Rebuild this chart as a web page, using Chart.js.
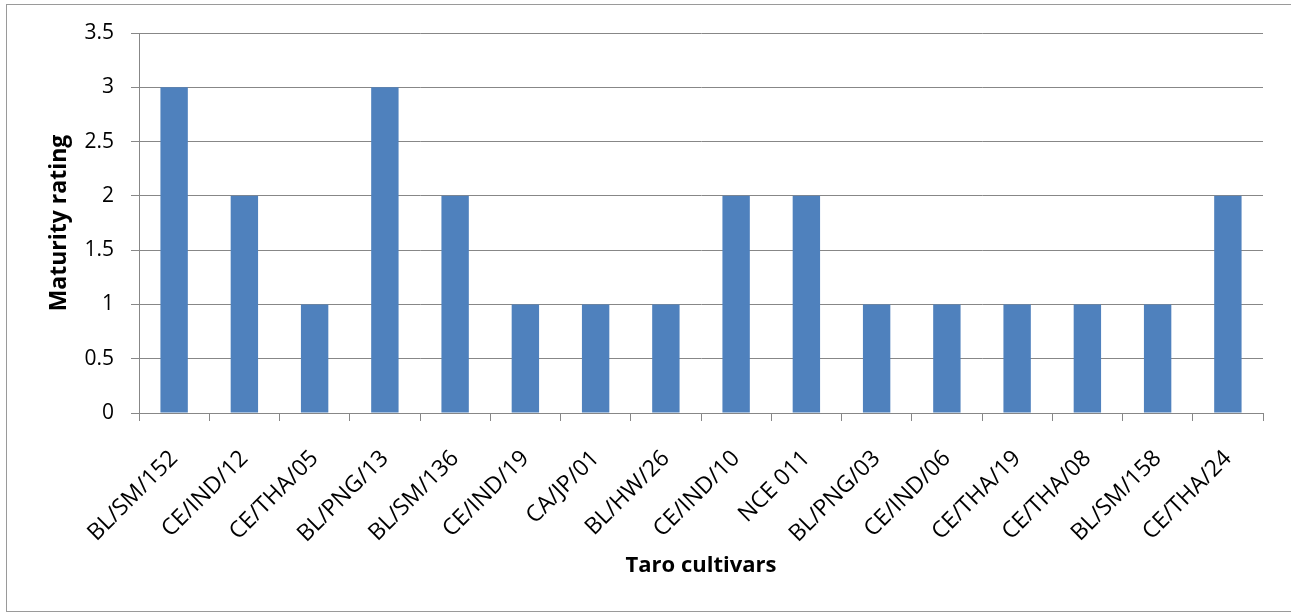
<!DOCTYPE html>
<html>
<head>
<meta charset="utf-8">
<script src="https://cdn.jsdelivr.net/npm/chart.js@4/dist/chart.umd.min.js"></script>
<style>
  body { margin: 0; background: #fff; }
  #frame {
    position: absolute; left: 6px; top: 4px; width: 1300px; height: 606px;
    border: 1px solid #9a9a9a;
  }
  #chart { position: absolute; left: 0; top: 0; }
</style>
</head>
<body>
<div id="frame"></div>
<canvas id="chart" width="1291" height="613"></canvas>
<script>
const cultivars = [
  "BL/SM/152", "CE/IND/12", "CE/THA/05", "BL/PNG/13", "BL/SM/136", "CE/IND/19",
  "CA/JP/01", "BL/HW/26", "CE/IND/10", "NCE 011", "BL/PNG/03", "CE/IND/06",
  "CE/THA/19", "CE/THA/08", "BL/SM/158", "CE/THA/24"
];
const maturityRating = [3, 2, 1, 3, 2, 1, 1, 1, 2, 2, 1, 1, 1, 1, 1, 2];
const yTickLabels = ["0", "0.5", "1", "1.5", "2", "2.5", "3", "3.5"];

const fontFamily = "'Open Sans', 'Noto Sans', sans-serif";
const gridColor = "#878787";

const ctx = document.getElementById("chart").getContext("2d");

new Chart(ctx, {
  type: "bar",
  data: {
    labels: cultivars,
    datasets: [
      {
        label: "Maturity rating",
        data: maturityRating,
        backgroundColor: "#4F81BD",
        borderWidth: 0,
        barPercentage: 0.39,
        categoryPercentage: 1,
      },
    ],
  },
  options: {
    responsive: false,
    devicePixelRatio: 1,
    animation: false,
    layout: { padding: { left: 0, right: 28, top: 33, bottom: 0 } },
    plugins: {
      legend: { display: false },
      tooltip: { enabled: false },
    },
    scales: {
      x: {
        grid: {
          display: true,
          drawOnChartArea: false,
          drawTicks: true,
          tickLength: 8,
          color: gridColor,
        },
        border: { color: gridColor, width: 1 },
        ticks: {
          color: "#000",
          font: { family: fontFamily, size: 23 },
          maxRotation: 45,
          minRotation: 45,
          autoSkip: false,
          padding: 24,
        },
        title: {
          display: true,
          text: "Taro cultivars",
          color: "#000",
          font: { family: fontFamily, size: 22, weight: "bold" },
          padding: { top: 0, bottom: 34 },
        },
        afterFit: function (scale) {
          scale.height = 200;
        },
      },
      y: {
        min: 0,
        max: 3.5,
        ticks: {
          stepSize: 0.5,
          color: "#000",
          font: { family: fontFamily, size: 21 },
          padding: 17,
          callback: function (value, index) {
            return yTickLabels[index];
          },
        },
        grid: {
          color: gridColor,
          tickLength: 8,
        },
        border: { color: gridColor, width: 1 },
        title: {
          display: true,
          text: "Maturity rating",
          color: "#000",
          font: { family: fontFamily, size: 23, weight: "bold" },
          padding: { top: 46, bottom: 0 },
        },
        afterFit: function (scale) {
          scale.width = 139;
        },
      },
    },
  },
});
</script>
</body>
</html>
